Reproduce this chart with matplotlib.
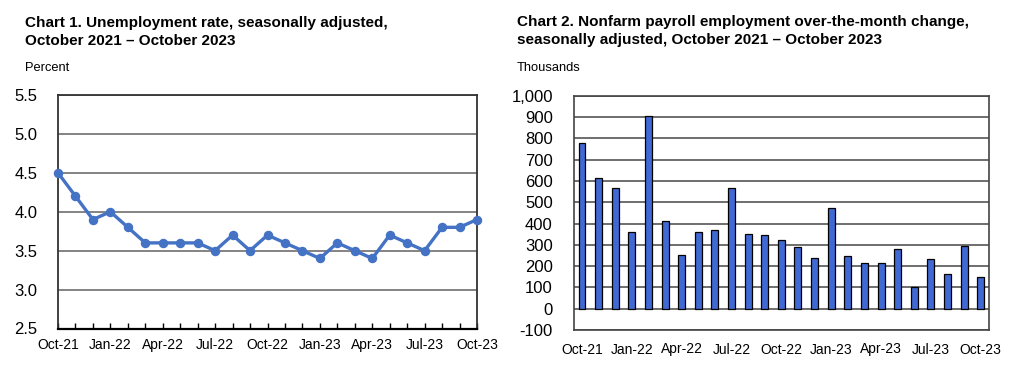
import matplotlib
matplotlib.use("Agg")
import matplotlib.pyplot as plt
from matplotlib.ticker import FuncFormatter

plt.rcParams["font.family"] = ["Liberation Sans", "DejaVu Sans"]

months = ["Oct-21", "Nov-21", "Dec-21", "Jan-22", "Feb-22", "Mar-22", "Apr-22", "May-22", "Jun-22",
          "Jul-22", "Aug-22", "Sep-22", "Oct-22", "Nov-22", "Dec-22", "Jan-23", "Feb-23", "Mar-23",
          "Apr-23", "May-23", "Jun-23", "Jul-23", "Aug-23", "Sep-23", "Oct-23"]
unemployment = [4.5, 4.2, 3.9, 4.0, 3.8, 3.6, 3.6, 3.6, 3.6, 3.5, 3.7, 3.5, 3.7,
                3.6, 3.5, 3.4, 3.6, 3.5, 3.4, 3.7, 3.6, 3.5, 3.8, 3.8, 3.9]
payrolls = [780, 612, 568, 361, 903, 412, 254, 361, 368, 565, 351, 347, 322,
            288, 238, 471, 246, 216, 216, 280, 103, 235, 164, 296, 150]

W, H = 1022, 371
fig = plt.figure(figsize=(W / 100, H / 100), dpi=100)

blue_line = "#4472C4"
blue_bar = "#4169D4"
grid_c = "#7a7a7a"

# chart 1
ax1 = fig.add_axes([58 / W, (H - 328.5) / H, 419 / W, 233.5 / H])
x = list(range(len(months)))
ax1.plot(x, unemployment, color=blue_line, lw=2.4, marker="o", ms=5.8, zorder=3, clip_on=False)
ax1.set_xlim(0, 24)
ax1.set_ylim(2.5, 5.5)
ax1.set_yticks([2.5, 3.0, 3.5, 4.0, 4.5, 5.0, 5.5])
ax1.yaxis.set_major_formatter(FuncFormatter(lambda v, p: f"{v:.1f}"))
ax1.set_xticks(x[::3])
ax1.set_xticklabels(months[::3])
ax1.set_xticks(x, minor=True)
ax1.tick_params(axis="y", length=0, pad=15, labelsize=12)
ax1.tick_params(axis="x", which="both", direction="in", length=4, width=1, pad=7, labelsize=10)
ax1.grid(axis="y", color=grid_c, lw=1.3)
for s in ax1.spines.values():
    s.set_color("#333333")
    s.set_linewidth(1.3)
ax1.spines["bottom"].set_color("black")
ax1.spines["bottom"].set_linewidth(1.6)

fig.text(25 / W, 1 - 27 / H, "Chart 1. Unemployment rate, seasonally adjusted,",
         fontsize=11, fontweight="bold", va="baseline")
fig.text(25 / W, 1 - 45 / H, "October 2021 \u2013 October 2023",
         fontsize=11, fontweight="bold", va="baseline")
fig.text(25 / W, 1 - 71 / H, "Percent", fontsize=9.3, va="baseline")

# chart 2
ax2 = fig.add_axes([573.7 / W, (H - 330) / H, 415.3 / W, 234.3 / H])
ax2.bar(x, payrolls, width=0.42, color=blue_bar, edgecolor="black", lw=0.9, zorder=3)
ax2.set_xlim(-0.5, 24.5)
ax2.set_ylim(-100, 1000)
ax2.set_yticks(range(-100, 1001, 100))
ax2.yaxis.set_major_formatter(FuncFormatter(lambda v, p: f"{int(v):,}"))
ax2.set_xticks(x[::3])
ax2.set_xticklabels(months[::3])
ax2.tick_params(axis="y", length=0, pad=15, labelsize=12)
ax2.tick_params(axis="x", length=0, pad=9, labelsize=10)
ax2.grid(axis="y", color="#555555", lw=1.2)
for s in ax2.spines.values():
    s.set_color("#444444")
    s.set_linewidth(1.2)

fig.text(517 / W, 1 - 26 / H, "Chart 2. Nonfarm payroll employment over-the-month change,",
         fontsize=11, fontweight="bold", va="baseline")
fig.text(517 / W, 1 - 44 / H, "seasonally adjusted, October 2021 \u2013 October 2023",
         fontsize=11, fontweight="bold", va="baseline")
fig.text(517 / W, 1 - 71 / H, "Thousands", fontsize=9.3, va="baseline")

fig.savefig("out.png", dpi=100)
